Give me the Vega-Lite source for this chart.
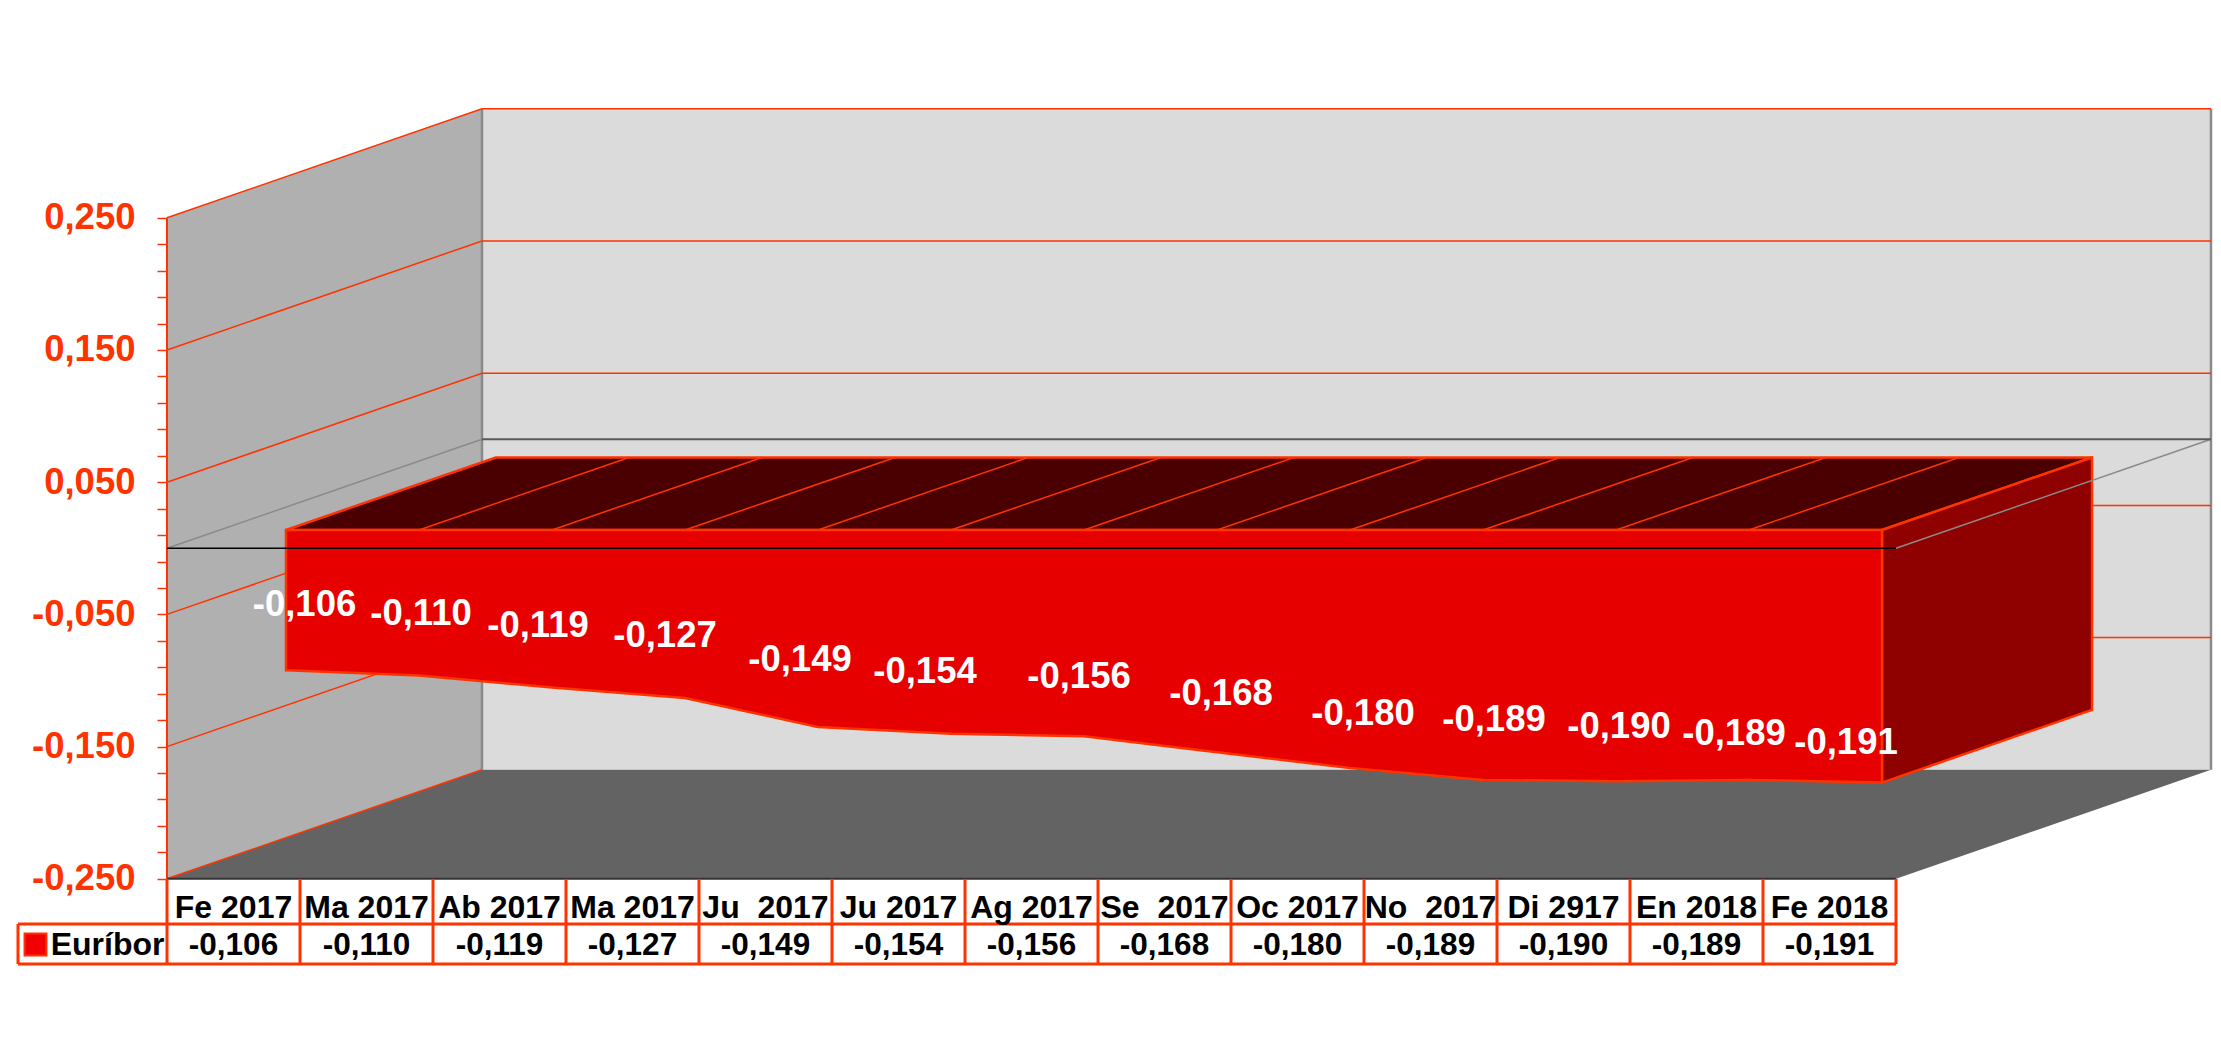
{
  "$schema": "https://vega.github.io/schema/vega-lite/v6.json",
  "width": 2054,
  "height": 1053,
  "padding": {"left": 167, "top": 0, "right": 0, "bottom": 0},
  "autosize": "none",
  "background": "white",
  "config": {
    "view": {"stroke": null},
    "text": {"font": "Liberation Sans", "fontWeight": "bold"}
  },
  "datasets": {
    "euribor": [
      {"n": 1, "mes": "Fe 2017", "valor": -0.106, "rotulo": "-0,106"},
      {"n": 2, "mes": "Ma 2017", "valor": -0.110, "rotulo": "-0,110"},
      {"n": 3, "mes": "Ab 2017", "valor": -0.119, "rotulo": "-0,119"},
      {"n": 4, "mes": "Ma 2017", "valor": -0.127, "rotulo": "-0,127"},
      {"n": 5, "mes": "Ju\u00a0\u00a02017", "valor": -0.149, "rotulo": "-0,149"},
      {"n": 6, "mes": "Ju 2017", "valor": -0.154, "rotulo": "-0,154"},
      {"n": 7, "mes": "Ag 2017", "valor": -0.156, "rotulo": "-0,156"},
      {"n": 8, "mes": "Se\u00a0\u00a02017", "valor": -0.168, "rotulo": "-0,168"},
      {"n": 9, "mes": "Oc 2017", "valor": -0.180, "rotulo": "-0,180"},
      {"n": 10, "mes": "No\u00a0\u00a02017", "valor": -0.189, "rotulo": "-0,189"},
      {"n": 11, "mes": "Di 2917", "valor": -0.190, "rotulo": "-0,190"},
      {"n": 12, "mes": "En 2018", "valor": -0.189, "rotulo": "-0,189"},
      {"n": 13, "mes": "Fe 2018", "valor": -0.191, "rotulo": "-0,191"}
    ],
    "paredIzq": [
      {"x": 0.5, "lo": -0.25, "hi": 0.25},
      {"x": 2.8684, "lo": -0.16755, "hi": 0.33245}
    ],
    "paredFondo": [
      {"x": 2.8684, "lo": -0.16755, "hi": 0.33245},
      {"x": 15.8684, "lo": -0.16755, "hi": 0.33245}
    ],
    "suelo": [
      {"y": -0.25, "x": 0.5, "x2": 13.5},
      {"y": -0.16755, "x": 2.8684, "x2": 15.8684}
    ],
    "rejilla": [
      {"nivel": "a", "x": 0.5, "y": 0.25}, {"nivel": "a", "x": 2.8684, "y": 0.33245}, {"nivel": "a", "x": 15.8684, "y": 0.33245},
      {"nivel": "b", "x": 0.5, "y": 0.15}, {"nivel": "b", "x": 2.8684, "y": 0.23245}, {"nivel": "b", "x": 15.8684, "y": 0.23245},
      {"nivel": "c", "x": 0.5, "y": 0.05}, {"nivel": "c", "x": 2.8684, "y": 0.13245}, {"nivel": "c", "x": 15.8684, "y": 0.13245},
      {"nivel": "d", "x": 0.5, "y": -0.05}, {"nivel": "d", "x": 2.8684, "y": 0.03245}, {"nivel": "d", "x": 15.8684, "y": 0.03245},
      {"nivel": "e", "x": 0.5, "y": -0.15}, {"nivel": "e", "x": 2.8684, "y": -0.06755}, {"nivel": "e", "x": 15.8684, "y": -0.06755},
      {"nivel": "f", "x": 0.5, "y": -0.25}, {"nivel": "f", "x": 2.8684, "y": -0.16755}
    ],
    "caraSup": [
      {"y": 0.01384, "x": 1.3947, "x2": 13.3947},
      {"y": 0.0687, "x": 2.9737, "x2": 14.9737}
    ],
    "caraLat": [
      {"x": 13.3947, "lo": -0.1772, "hi": 0.01384},
      {"x": 14.9737, "lo": -0.1223, "hi": 0.0687}
    ],
    "listones": [
      {"desde": 2.3947, "hasta": 3.9737},
      {"desde": 3.3947, "hasta": 4.9737},
      {"desde": 4.3947, "hasta": 5.9737},
      {"desde": 5.3947, "hasta": 6.9737},
      {"desde": 6.3947, "hasta": 7.9737},
      {"desde": 7.3947, "hasta": 8.9737},
      {"desde": 8.3947, "hasta": 9.9737},
      {"desde": 9.3947, "hasta": 10.9737},
      {"desde": 10.3947, "hasta": 11.9737},
      {"desde": 11.3947, "hasta": 12.9737},
      {"desde": 12.3947, "hasta": 13.9737}
    ],
    "columnas": [
      {"x": 0.5}, {"x": 1.5}, {"x": 2.5}, {"x": 3.5}, {"x": 4.5}, {"x": 5.5}, {"x": 6.5},
      {"x": 7.5}, {"x": 8.5}, {"x": 9.5}, {"x": 10.5}, {"x": 11.5}, {"x": 12.5}, {"x": 13.5}
    ]
  },
  "resolve": {"scale": {"x": "independent", "y": "independent"}},
  "layer": [
    {
      "layer": [
        {
          "data": {"name": "paredIzq"},
          "mark": {"type": "area", "fill": "#b0b0b0"},
          "encoding": {
            "x": {"field": "x", "type": "quantitative", "axis": null, "scale": {"domain": [0.5, 15.9436], "nice": false}},
            "y": {"field": "lo", "type": "quantitative", "stack": null, "axis": null, "scale": {"domain": [-0.38177, 0.41475], "nice": false}},
            "y2": {"field": "hi"}
          }
        },
        {
          "data": {"name": "paredFondo"},
          "mark": {"type": "area", "fill": "#dbdbdb"},
          "encoding": {
            "x": {"field": "x", "type": "quantitative", "axis": null},
            "y": {"field": "lo", "type": "quantitative", "stack": null, "axis": null},
            "y2": {"field": "hi"}
          }
        },
        {
          "data": {"name": "suelo"},
          "mark": {"type": "area", "orient": "horizontal", "fill": "#636363"},
          "encoding": {
            "y": {"field": "y", "type": "quantitative", "axis": null},
            "x": {"field": "x", "type": "quantitative", "stack": null, "axis": null},
            "x2": {"field": "x2"}
          }
        },
        {
          "mark": {"type": "rule", "stroke": "#8a8a8a", "strokeWidth": 2.5},
          "data": {"values": [{"x": 2.8684}, {"x": 15.8684}]},
          "encoding": {
            "x": {"field": "x", "type": "quantitative", "axis": null},
            "y": {"datum": -0.16755, "axis": null},
            "y2": {"datum": 0.33245}
          }
        },
        {
          "data": {"name": "rejilla"},
          "mark": {"type": "line", "stroke": "#ff3300", "strokeWidth": 1.5},
          "encoding": {
            "x": {"field": "x", "type": "quantitative", "axis": null},
            "y": {"field": "y", "type": "quantitative", "axis": null},
            "detail": {"field": "nivel"}
          }
        },
        {
          "data": {"name": "caraSup"},
          "mark": {"type": "area", "orient": "horizontal", "fill": "#4a0000", "stroke": "#ff3300", "strokeWidth": 2.5},
          "encoding": {
            "y": {"field": "y", "type": "quantitative", "axis": null},
            "x": {"field": "x", "type": "quantitative", "stack": null, "axis": null},
            "x2": {"field": "x2"}
          }
        },
        {
          "data": {"name": "listones"},
          "mark": {"type": "rule", "stroke": "#ff3300", "strokeWidth": 1.5},
          "encoding": {
            "x": {"field": "desde", "type": "quantitative", "axis": null},
            "x2": {"field": "hasta"},
            "y": {"datum": 0.01384, "axis": null},
            "y2": {"datum": 0.0687}
          }
        },
        {
          "data": {"name": "caraLat"},
          "mark": {"type": "area", "fill": "#8f0000", "stroke": "#ff3300", "strokeWidth": 2.5},
          "encoding": {
            "x": {"field": "x", "type": "quantitative", "axis": null},
            "y": {"field": "lo", "type": "quantitative", "stack": null, "axis": null},
            "y2": {"field": "hi"}
          }
        }
      ]
    },
    {
      "data": {"values": [{"x": 0.5}]},
      "mark": {"type": "rule", "stroke": "#ff3300", "strokeWidth": 2},
      "encoding": {
        "x": {"field": "x", "type": "quantitative", "axis": null, "scale": {"domain": [0.5, 15.9436], "nice": false}},
        "y": {
          "datum": -0.25,
          "type": "quantitative",
          "title": null,
          "scale": {"domain": [-0.38177, 0.41475], "nice": false},
          "axis": {
            "orient": "left",
            "values": [-0.25, -0.23, -0.21, -0.19, -0.17, -0.15, -0.13, -0.11, -0.09, -0.07, -0.05, -0.03, -0.01, 0.01, 0.03, 0.05, 0.07, 0.09, 0.11, 0.13, 0.15, 0.17, 0.19, 0.21, 0.23, 0.25],
            "domain": false,
            "grid": false,
            "title": null,
            "tickColor": "#ff3300",
            "tickWidth": 1.5,
            "tickSize": 10,
            "labelPadding": 22,
            "labelColor": "#ff3300",
            "labelFont": "Liberation Sans",
            "labelFontWeight": "bold",
            "labelFontSize": 36.5,
            "labelOverlap": false,
            "labelFlush": false,
            "labelBound": false,
            "labelExpr": "abs(round(datum.value*100)%10)==5 ? (datum.value<0?'-':'') + replace(format(abs(datum.value),'.3f'),'.',',') : ''",
            "encode": {"ticks": {"update": {"x2": {"signal": "abs(round(datum.value*100)%10)==5 ? -10 : -7"}}}}
          }
        },
        "y2": {"datum": 0.25}
      }
    },
    {
      "data": {"name": "euribor"},
      "mark": {"type": "area", "fill": "#e60000", "stroke": "#ff3300", "strokeWidth": 2.5},
      "encoding": {
        "x": {"field": "n", "type": "quantitative", "axis": null, "scale": {"domain": [0.1053, 15.5489], "nice": false}},
        "y": {"field": "valor", "type": "quantitative", "stack": null, "axis": null, "scale": {"domain": [-0.39554, 0.40098], "nice": false}},
        "y2": {"datum": 0}
      }
    },
    {
      "layer": [
        {
          "data": {"values": [{"x": 0.5, "x2": 2.8684, "y": 0, "y2": 0.08245}, {"x": 13.5, "x2": 15.8684, "y": 0, "y2": 0.08245}]},
          "mark": {"type": "rule", "stroke": "#8a8a8a", "strokeWidth": 1.5},
          "encoding": {
            "x": {"field": "x", "type": "quantitative", "axis": null, "scale": {"domain": [0.5, 15.9436], "nice": false}},
            "x2": {"field": "x2"},
            "y": {"field": "y", "type": "quantitative", "axis": null, "scale": {"domain": [-0.38177, 0.41475], "nice": false}},
            "y2": {"field": "y2"}
          }
        },
        {
          "data": {"values": [{"x": 2.8684, "x2": 15.8684, "y": 0.08245}]},
          "mark": {"type": "rule", "stroke": "#5a5a5a", "strokeWidth": 2},
          "encoding": {
            "x": {"field": "x", "type": "quantitative", "axis": null},
            "x2": {"field": "x2"},
            "y": {"field": "y", "type": "quantitative", "axis": null}
          }
        },
        {
          "data": {"values": [{"x": 0.5, "x2": 13.5, "y": 0}]},
          "mark": {"type": "rule", "stroke": "#000000", "strokeWidth": 1.5},
          "encoding": {
            "x": {"field": "x", "type": "quantitative", "axis": null},
            "x2": {"field": "x2"},
            "y": {"field": "y", "type": "quantitative", "axis": null}
          }
        },
        {
          "data": {"values": [{"x": 0.5, "x2": 13.5, "y": -0.25}]},
          "mark": {"type": "rule", "stroke": "#333333", "strokeWidth": 2},
          "encoding": {
            "x": {"field": "x", "type": "quantitative", "axis": null},
            "x2": {"field": "x2"},
            "y": {"field": "y", "type": "quantitative", "axis": null}
          }
        },
        {
          "data": {"name": "columnas"},
          "mark": {"type": "rule", "stroke": "#ff3300", "strokeWidth": 3},
          "encoding": {
            "x": {"field": "x", "type": "quantitative", "axis": null},
            "y": {"datum": -0.25, "axis": null},
            "y2": {"datum": -0.31445}
          }
        },
        {
          "data": {"values": [{"x": -0.6203, "x2": 13.5, "y": -0.2842}, {"x": -0.6203, "x2": 13.5, "y": -0.31445}]},
          "mark": {"type": "rule", "stroke": "#ff3300", "strokeWidth": 3},
          "encoding": {
            "x": {"field": "x", "type": "quantitative", "axis": null},
            "x2": {"field": "x2"},
            "y": {"field": "y", "type": "quantitative", "axis": null}
          }
        },
        {
          "data": {"values": [{"x": -0.6203}]},
          "mark": {"type": "rule", "stroke": "#ff3300", "strokeWidth": 3},
          "encoding": {
            "x": {"field": "x", "type": "quantitative", "axis": null},
            "y": {"datum": -0.2842, "axis": null},
            "y2": {"datum": -0.31445}
          }
        },
        {
          "data": {"values": [{"x": -0.4887, "y": -0.2997}]},
          "mark": {"type": "point", "shape": "square", "filled": true, "fill": "#f00000", "stroke": "#ff3300", "strokeWidth": 2, "size": 480, "opacity": 1},
          "encoding": {
            "x": {"field": "x", "type": "quantitative", "axis": null},
            "y": {"field": "y", "type": "quantitative", "axis": null}
          }
        },
        {
          "data": {"values": [{"x": -0.3747, "y": -0.3076, "t": "Euríbor"}]},
          "mark": {"type": "text", "align": "left", "baseline": "alphabetic", "fontSize": 32, "fill": "#000000"},
          "encoding": {
            "x": {"field": "x", "type": "quantitative", "axis": null},
            "y": {"field": "y", "type": "quantitative", "axis": null},
            "text": {"field": "t"}
          }
        },
        {
          "data": {"name": "euribor"},
          "mark": {"type": "text", "align": "center", "baseline": "alphabetic", "fontSize": 32, "fill": "#000000"},
          "encoding": {
            "x": {"field": "n", "type": "quantitative", "axis": null},
            "y": {"datum": -0.2797, "axis": null},
            "text": {"field": "mes"}
          }
        },
        {
          "data": {"name": "euribor"},
          "mark": {"type": "text", "align": "center", "baseline": "alphabetic", "fontSize": 31.5, "fill": "#000000"},
          "encoding": {
            "x": {"field": "n", "type": "quantitative", "axis": null},
            "y": {"datum": -0.3076, "axis": null},
            "text": {"field": "rotulo"}
          }
        }
      ]
    },
    {
      "data": {"name": "euribor"},
      "mark": {
        "type": "text", "align": "center", "baseline": "middle", "fontSize": 36.5, "fill": "#ffffff",
        "dx": {"expr": "[18.5, 2, -14, -20, -18, -26, -5, 4, 13, 11, 3, -15, -36][datum.n - 1]"},
        "dy": {"expr": "[-65, -62, -61, -62, -67, -62, -59, -58, -54, -60, -54, -46, -40][datum.n - 1]"}
      },
      "encoding": {
        "x": {"field": "n", "type": "quantitative", "axis": null, "scale": {"domain": [0.1053, 15.5489], "nice": false}},
        "y": {"field": "valor", "type": "quantitative", "axis": null, "scale": {"domain": [-0.39554, 0.40098], "nice": false}},
        "text": {"field": "rotulo"}
      }
    }
  ]
}
